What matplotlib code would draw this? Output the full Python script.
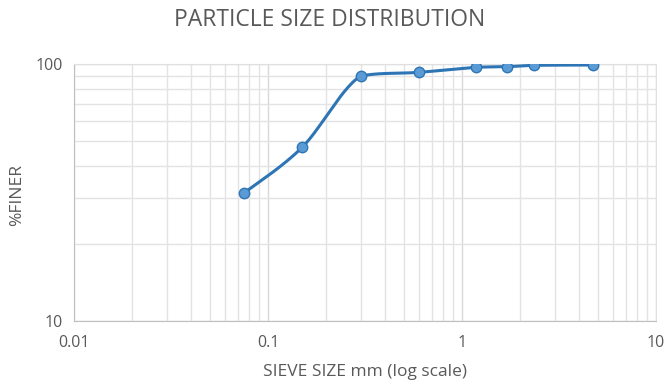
import numpy as np
import matplotlib
matplotlib.use("Agg")
import matplotlib.pyplot as plt
from matplotlib.ticker import LogLocator, FixedLocator, NullFormatter

plt.rcParams['font.family'] = ['Open Sans', 'DejaVu Sans']

# data
sieve_mm = [0.075, 0.15, 0.3, 0.6, 1.18, 1.7, 2.36, 4.75]
pct_finer = [31.4, 47.4, 89.8, 92.8, 97.1, 97.6, 98.8, 99.1]
x_ticks = [0.01, 0.1, 1, 10]
x_tick_labels = ['0.01', '0.1', '1', '10']
y_ticks = [10, 100]
y_tick_labels = ['10', '100']

line_col = '#2E75B6'
marker_col = '#5B9BD5'
text_col = '#595959'
grid_col = '#D9D9D9'


def smooth(xs, ys, n=30, k=6.0):
    # excel style smoothed line: bezier through the points in log space,
    # control points kept inside each segment's y range (no overshoot)
    lx = np.log10(xs)
    ly = np.log10(ys)
    p = np.column_stack([lx, ly])
    p = np.vstack([p[0], p, p[-1]])
    out = []
    for i in range(1, len(p) - 2):
        p0, p1, p2, p3 = p[i - 1], p[i], p[i + 1], p[i + 2]
        c1 = p1 + (p2 - p0) / k
        c2 = p2 - (p3 - p1) / k
        lo, hi = min(p1[1], p2[1]), max(p1[1], p2[1])
        c1[1] = np.clip(c1[1], lo, hi)
        c2[1] = np.clip(c2[1], lo, hi)
        t = np.linspace(0, 1, n)[:, None]
        seg = ((1 - t) ** 3 * p1 + 3 * (1 - t) ** 2 * t * c1
               + 3 * (1 - t) * t ** 2 * c2 + t ** 3 * p2)
        out.append(seg)
    out = np.vstack(out)
    return 10 ** out[:, 0], 10 ** out[:, 1]


fig = plt.figure(figsize=(6.64, 3.83), dpi=100)
ax = fig.add_axes([0.1114, 0.1619, 0.8765, 0.671])

ax.set_xscale('log')
ax.set_yscale('log')
ax.set_xlim(0.01, 10)
ax.set_ylim(10, 100)

ax.xaxis.set_major_locator(FixedLocator(x_ticks))
ax.set_xticklabels(x_tick_labels)
ax.yaxis.set_major_locator(FixedLocator(y_ticks))
ax.set_yticklabels(y_tick_labels)
ax.xaxis.set_minor_locator(LogLocator(base=10, subs=np.arange(2, 10)))
ax.yaxis.set_minor_locator(LogLocator(base=10, subs=np.arange(2, 10)))
ax.xaxis.set_minor_formatter(NullFormatter())
ax.yaxis.set_minor_formatter(NullFormatter())

ax.grid(which='minor', color='#E3E3E3', lw=1.0)
ax.grid(which='major', color=grid_col, lw=1.0)
ax.set_axisbelow(True)

ax.tick_params(which='both', length=0, colors=text_col, labelsize=11.5)
ax.tick_params(axis='x', pad=10)
ax.tick_params(axis='y', pad=8)

for s in ['left', 'bottom']:
    ax.spines[s].set_color('#BFBFBF')
for s in ['top', 'right']:
    ax.spines[s].set_color('#E0E0E0')

sx, sy = smooth(sieve_mm, pct_finer)
ax.plot(sx, sy, color=line_col, lw=2.2, solid_capstyle='round', zorder=3)
ax.plot(sieve_mm, pct_finer, 'o', ms=7.5, mfc=marker_col, mec=line_col,
        mew=1.0, zorder=4)

fig.text(0.497, 0.947, 'PARTICLE SIZE DISTRIBUTION', fontsize=16.5,
         color=text_col, ha='center', va='center')
ax.set_xlabel('SIEVE SIZE mm (log scale)', fontsize=12.5, color=text_col)
ax.xaxis.set_label_coords(0.5, -0.168)
ax.set_ylabel('%FINER', fontsize=12.5, color=text_col)
ax.yaxis.set_label_coords(-0.084, 0.49)

fig.savefig('out.png', dpi=100)
